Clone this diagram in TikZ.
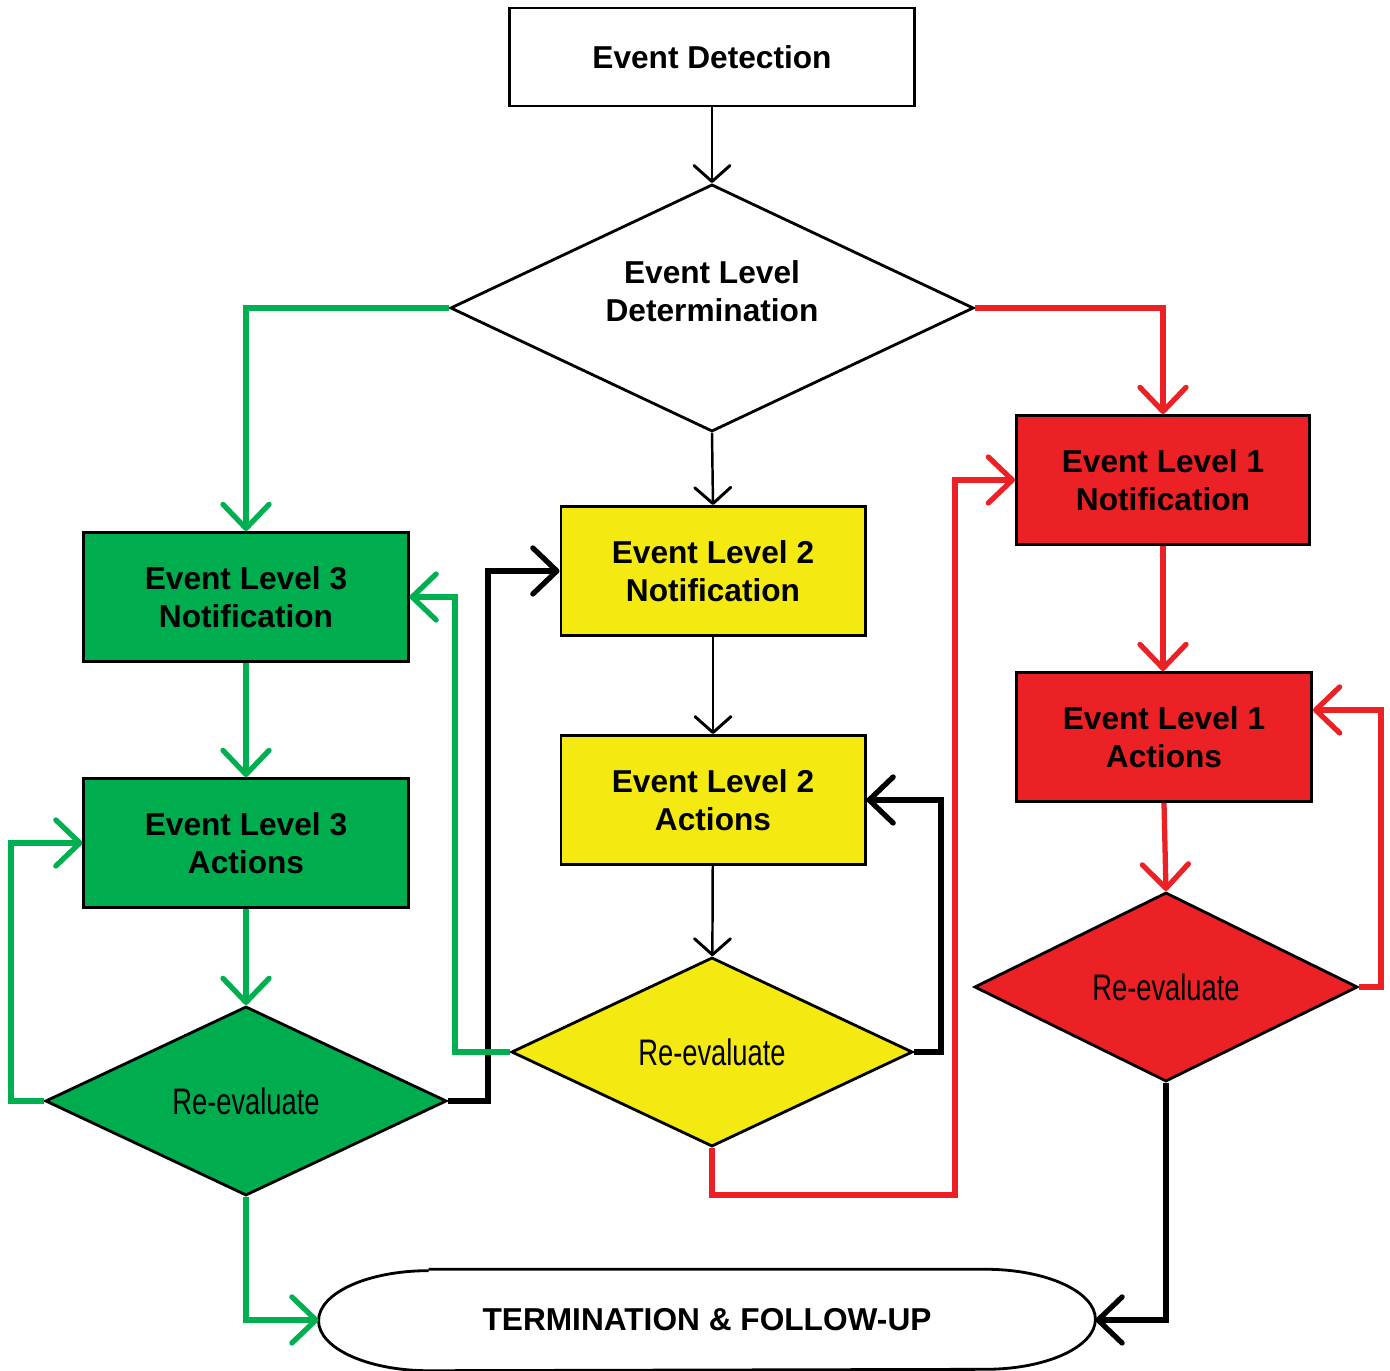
\documentclass[tikz,border=0pt]{standalone}
\usepackage{fontspec}
\setmainfont{Liberation Sans}
\newfontfamily\narrowfont[FakeStretch=0.74]{Liberation Sans}
\usetikzlibrary{math,arrows.meta,shapes.geometric}
\definecolor{lvlgreen}{HTML}{00AD4E}
\definecolor{linegreen}{HTML}{00B050}
\definecolor{lvlyellow}{HTML}{F4EA12}
\definecolor{lvlred}{HTML}{EC2126}
\tikzset{
  box/.style={draw, line width=0.8pt, minimum width=3.24cm, minimum height=1.29cm,
    align=center, font=\bfseries\fontsize{9}{10.8}\selectfont},
  decide/.style={diamond, draw, line width=0.8pt, inner sep=0pt, aspect=2.1,
    minimum width=4.01cm, minimum height=1.89cm,
    font=\narrowfont\fontsize{10.5}{12}\selectfont},
  thinarrow/.style={-{Straight Barb[length=1.6mm,width=3.6mm,line width=0pt 1.2,round]}, line width=0.7pt},
  thickarrow/.style={-{Straight Barb[length=2.4mm,width=4.6mm,line width=0pt 1,round]}, line width=1.5pt},
}

\begin{document}
\begin{tikzpicture}[x=0.01cm, y=-0.01cm]
    % columns and rows, in pixels of the page
    \tikzmath{%
      \colL = 246; \colM = 712; \colR = 1164;
      % rows of the three branches
      \rowTop = 57; \rowDet = 308;
    }
    \useasboundingbox (0,0) rectangle (1390,1371);
    % top
    \node[box, minimum width=4.05cm, minimum height=0.98cm] (detect) at (\colM,\rowTop) {Event Detection};
    \node[decide, minimum width=5.23cm, minimum height=2.47cm, aspect=2.1,
      font=\bfseries\fontsize{9}{10.8}\selectfont] (det) at (\colM,\rowDet)
      {\raisebox{0.055cm}[0pt][0pt]{\begin{tabular}{@{}c@{}}Event Level\\Determination\end{tabular}}};
    % level 3 (green)
    \node[box, fill=lvlgreen] (n3) at (\colL,597) {Event Level 3\\Notification};
    \node[box, fill=lvlgreen] (a3) at (\colL,843) {Event Level 3\\Actions};
    \node[decide, fill=lvlgreen] (r3) at (\colL,1101) {Re-evaluate};
    % level 2 (yellow)
    \node[box, fill=lvlyellow, minimum width=3.04cm] (n2) at (713,571) {Event Level 2\\Notification};
    \node[box, fill=lvlyellow, minimum width=3.04cm] (a2) at (713,800) {Event Level 2\\Actions};
    \node[decide, fill=lvlyellow] (r2) at (\colM,1052) {Re-evaluate};
    % level 1 (red)
    \node[box, fill=lvlred, minimum width=2.93cm] (n1) at (1163,480) {Event Level 1\\Notification};
    \node[box, fill=lvlred, minimum width=2.95cm] (a1) at (\colR,737) {Event Level 1\\Actions};
    \node[decide, fill=lvlred, minimum width=3.83cm] (r1) at (1166,987) {Re-evaluate};
    % end
    \node[minimum width=7.75cm, minimum height=1.0cm, font=\bfseries\fontsize{9}{10.8}\selectfont] (term) at (707,1320) {TERMINATION \& FOLLOW-UP};
    \draw[line width=0.8pt] ([xshift=1.1cm]term.north west) -- ([xshift=-1.1cm]term.north east)
      arc[start angle=90, end angle=-90, x radius=1.1cm, y radius=0.5cm]
      -- ([xshift=1.1cm]term.south west)
      arc[start angle=270, end angle=90, x radius=1.1cm, y radius=0.5cm];
    % straight flow
    \draw[thinarrow] (detect) -- (det);
    \draw[thinarrow] (det.south) -- (n2.north);
    \draw[thinarrow] (n2) -- (a2);
    \draw[thinarrow] (a2) -- (r2);
    \draw[thickarrow, linegreen] (det.west) -| (n3.north);
    \draw[thickarrow, linegreen] (n3) -- (a3);
    \draw[thickarrow, linegreen] (a3) -- (r3);
    \draw[thickarrow, lvlred] (det.east) -| (n1.north);
    \draw[thickarrow, lvlred] (n1.south) -- (n1.south |- a1.north);
    \draw[thickarrow, lvlred] (a1.south) -- (r1.north);
    % loops back
    \draw[thickarrow, linegreen] (r3.west) -- ++(-33,0) |- (a3.west);
    \draw[thickarrow] (r3.east) -- ++(40,0) |- (n2.west);
    \draw[thickarrow, linegreen] (r2.west) -- ++(-55,0) |- (n3.east);
    \draw[thickarrow] (r2.east) -- ++(27,0) |- (a2.east);
    \draw[thickarrow, lvlred] (r2.south) -- ++(0,47) -- ++(243,0) |- (n1.west);
    \draw[thickarrow, lvlred] (r1.east) -- ++(22,0) |- ([yshift=0.27cm]a1.east);
    % to termination
    \draw[thickarrow, linegreen] (r3.south) |- (term.west);
    \draw[thickarrow] (r1.south) |- (term.east);
\end{tikzpicture}
\end{document}
